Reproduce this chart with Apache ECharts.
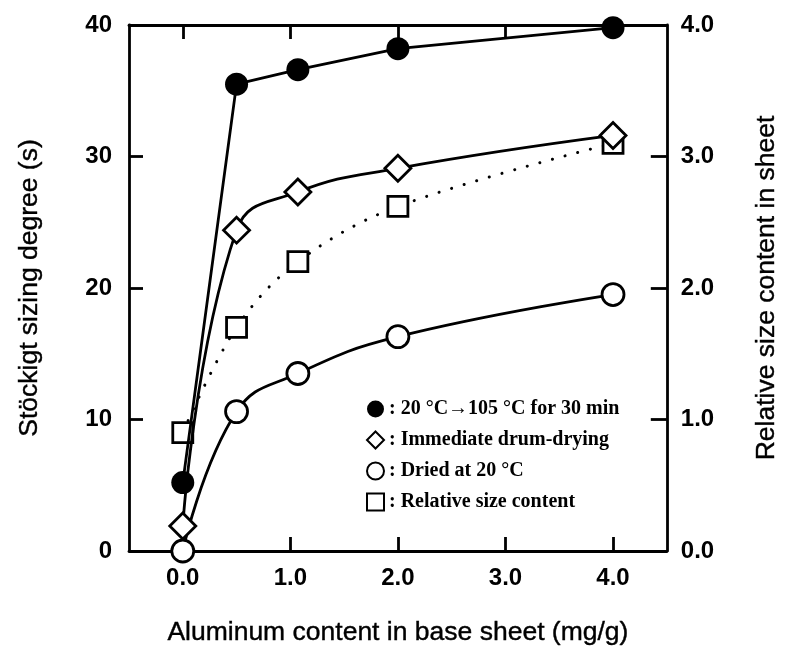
<!DOCTYPE html>
<html>
<head>
<meta charset="utf-8">
<script src="https://cdn.jsdelivr.net/npm/echarts@6/dist/echarts.min.js"></script>
<style>
html,body{margin:0;padding:0;background:#fff;}
#chart{width:788px;height:656px;}
</style>
</head>
<body>
<div id="chart"></div>
<script>
// ---- data ----
const xTicks = [0, 1, 2, 3, 4];
const aluminum = [0, 0.5, 1.07, 2.0, 4.0];
const heated105 = [5.2, 35.5, 36.6, 38.2, 39.8];      // filled circles (s)
const drumDried = [1.9, 24.4, 27.3, 29.1, 31.6];      // diamonds (s)
const dried20 = [0, 10.6, 13.5, 16.3, 19.5];          // open circles (s)
const relSize = [0.9, 1.7, 2.2, 2.62, 3.1];           // squares (right axis)
const seriesNames = [
  '20 °C→105 °C for 30 min',
  'Immediate drum-drying',
  'Dried at 20 °C',
  'Relative size content'
];

const pairs = (ys) => aluminum.map((x, i) => [x, ys[i]]);

const chart = echarts.init(document.getElementById('chart'), null, {renderer: 'canvas'});
const axisFont = {fontFamily: 'Liberation Sans, Arial, sans-serif', fontSize: 24, fontWeight: 'bold', color: '#000'};
const nameFont = {fontFamily: 'Liberation Sans, Arial, sans-serif', fontSize: 26.5, color: '#000', textBorderColor: '#000', textBorderWidth: 0.4};
const lineW = 2.8;

const xBase = {
  type: 'value', min: -0.5, max: 4.5,
  splitLine: {show: false},
  axisLine: {show: true, onZero: false, lineStyle: {color: '#000', width: lineW}},
  axisTick: {show: true, inside: true, length: 14, lineStyle: {color: '#000', width: lineW}, customValues: xTicks}
};

chart.setOption({
  animation: false,
  backgroundColor: '#fff',
  grid: {left: 129, right: 120, top: 25, bottom: 105, containLabel: false},
  legend: {
    orient: 'vertical',
    left: 361, top: 394,
    itemWidth: 17, itemHeight: 17, itemGap: 11,
    textStyle: {fontFamily: 'Liberation Serif, Times New Roman, serif', fontWeight: 'bold', fontSize: 20, color: '#000'},
    formatter: (n) => ': ' + n,
    data: [
      {name: seriesNames[0], icon: 'circle', itemStyle: {color: '#000', borderColor: '#000', borderWidth: 0}},
      {name: seriesNames[1], icon: 'diamond', itemStyle: {color: '#fff', borderColor: '#000', borderWidth: 2}},
      {name: seriesNames[2], icon: 'circle', itemStyle: {color: '#fff', borderColor: '#000', borderWidth: 2}},
      {name: seriesNames[3], icon: 'rect', itemStyle: {color: '#fff', borderColor: '#000', borderWidth: 2}}
    ]
  },
  xAxis: [
    Object.assign({}, xBase, {
      position: 'bottom',
      name: 'Aluminum content in base sheet (mg/g)',
      nameLocation: 'middle', nameGap: 68, nameTextStyle: nameFont,
      axisLabel: Object.assign({}, axisFont, {margin: 15, customValues: xTicks, formatter: (v) => v.toFixed(1)})
    }),
    Object.assign({}, xBase, {
      position: 'top',
      axisLabel: {show: false}
    })
  ],
  yAxis: [
    {
      type: 'value', min: 0, max: 40, interval: 10, position: 'left',
      name: 'Stöckigt sizing degree (s)', nameLocation: 'middle', nameGap: 86, nameRotate: 90,
      nameTextStyle: nameFont,
      splitLine: {show: false},
      axisLine: {show: true, onZero: false, lineStyle: {color: '#000', width: lineW}},
      axisTick: {show: true, inside: true, length: 14, lineStyle: {color: '#000', width: lineW}},
      axisLabel: Object.assign({}, axisFont, {margin: 17})
    },
    {
      type: 'value', min: 0, max: 4, interval: 1, position: 'right',
      name: 'Relative size content in sheet', nameLocation: 'middle', nameGap: 86, nameRotate: 90,
      nameTextStyle: nameFont,
      splitLine: {show: false},
      axisLine: {show: true, onZero: false, lineStyle: {color: '#000', width: lineW}},
      axisTick: {show: true, inside: true, length: 16, lineStyle: {color: '#000', width: lineW}},
      axisLabel: Object.assign({}, axisFont, {margin: 14, formatter: (v) => v.toFixed(1)})
    }
  ],
  series: [
    {
      name: seriesNames[3], type: 'line', yAxisIndex: 1, data: pairs(relSize),
      smooth: 0.35,
      symbol: 'rect', symbolSize: 20,
      lineStyle: {color: '#000', width: 3, type: [0.1, 13], cap: 'round'},
      itemStyle: {color: '#fff', borderColor: '#000', borderWidth: 2.8},
      z: 2
    },
    {
      name: seriesNames[2], type: 'line', data: pairs(dried20),
      smooth: 0.45,
      symbol: 'circle', symbolSize: 22,
      lineStyle: {color: '#000', width: lineW},
      itemStyle: {color: '#fff', borderColor: '#000', borderWidth: 2.8},
      z: 3
    },
    {
      name: seriesNames[1], type: 'line', data: pairs(drumDried),
      smooth: 0.45,
      symbol: 'diamond', symbolSize: 26,
      lineStyle: {color: '#000', width: lineW},
      itemStyle: {color: '#fff', borderColor: '#000', borderWidth: 2.8},
      z: 4
    },
    {
      name: seriesNames[0], type: 'line', data: pairs(heated105),
      smooth: false,
      symbol: 'circle', symbolSize: 23,
      lineStyle: {color: '#000', width: lineW},
      itemStyle: {color: '#000', borderColor: '#000', borderWidth: 0},
      z: 5
    }
  ]
});
</script>
</body>
</html>
